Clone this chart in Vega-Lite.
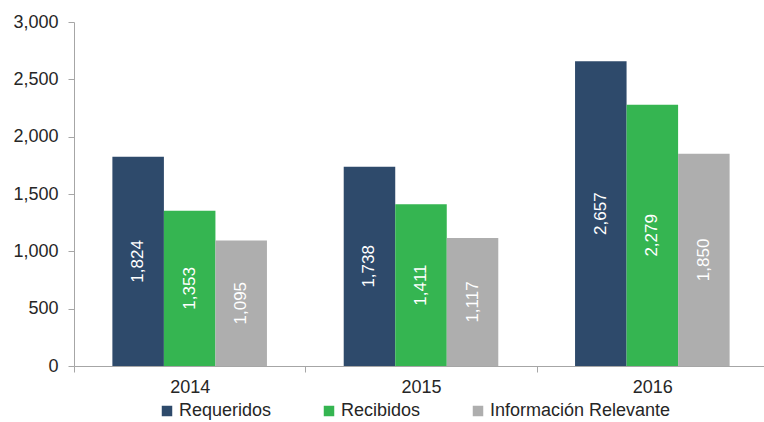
{
  "$schema": "https://vega.github.io/schema/vega-lite/v6.json",
  "width": 694,
  "height": 344,
  "autosize": "none",
  "padding": {"left": 74, "top": 22, "right": 0, "bottom": 56},
  "config": {
    "view": {"stroke": null},
    "font": "Liberation Sans",
    "axis": {"labelFont": "Liberation Sans", "labelColor": "#262626", "labelFontSize": 18, "domainColor": "#a6a6a6", "tickColor": "#a6a6a6", "grid": false},
    "legend": {"labelFont": "Liberation Sans"}
  },
  "data": {
    "values": [
      {"year": "2014", "serie": "Requeridos", "value": 1824},
      {"year": "2014", "serie": "Recibidos", "value": 1353},
      {"year": "2014", "serie": "Información Relevante", "value": 1095},
      {"year": "2015", "serie": "Requeridos", "value": 1738},
      {"year": "2015", "serie": "Recibidos", "value": 1411},
      {"year": "2015", "serie": "Información Relevante", "value": 1117},
      {"year": "2016", "serie": "Requeridos", "value": 2657},
      {"year": "2016", "serie": "Recibidos", "value": 2279},
      {"year": "2016", "serie": "Información Relevante", "value": 1850}
    ]
  },
  "encoding": {
    "x": {
      "field": "year",
      "type": "nominal",
      "scale": {"paddingInner": 0, "paddingOuter": 0},
      "axis": {"title": null, "labelAngle": 0, "tickBand": "extent", "tickSize": 6, "labelPadding": 6}
    },
    "xOffset": {
      "field": "serie",
      "type": "nominal",
      "sort": ["Requeridos", "Recibidos", "Información Relevante"],
      "scale": {"paddingInner": 0, "paddingOuter": 0.745}
    }
  },
  "layer": [
    {
      "mark": {"type": "bar"},
      "encoding": {
        "y": {
          "field": "value",
          "type": "quantitative",
          "scale": {"domain": [0, 3000], "nice": false},
          "axis": {"title": null, "values": [0, 500, 1000, 1500, 2000, 2500, 3000], "format": ",.0f", "tickSize": 6, "labelPadding": 10}
        },
        "color": {
          "field": "serie",
          "type": "nominal",
          "sort": ["Requeridos", "Recibidos", "Información Relevante"],
          "scale": {"domain": ["Requeridos", "Recibidos", "Información Relevante"], "range": ["#2e4a6b", "#35b551", "#aeaeae"]},
          "legend": {
            "title": null,
            "orient": "none",
            "direction": "horizontal",
            "legendX": 84,
            "legendY": 380,
            "symbolType": "square",
            "symbolSize": 110,
            "symbolStrokeWidth": 0,
            "labelFontSize": 18,
            "labelColor": "#262626",
            "labelLimit": 400,
            "labelOffset": 3,
            "columnPadding": 48
          }
        }
      }
    },
    {
      "mark": {"type": "text", "angle": 270, "align": "center", "baseline": "middle", "color": "#ffffff", "fontSize": 17},
      "encoding": {
        "y": {
          "field": "value",
          "type": "quantitative",
          "scale": {"domain": [0, 6000], "nice": false},
          "axis": null
        },
        "text": {"field": "value", "type": "quantitative", "format": ",.0f"}
      }
    }
  ],
  "resolve": {"scale": {"y": "independent"}}
}
